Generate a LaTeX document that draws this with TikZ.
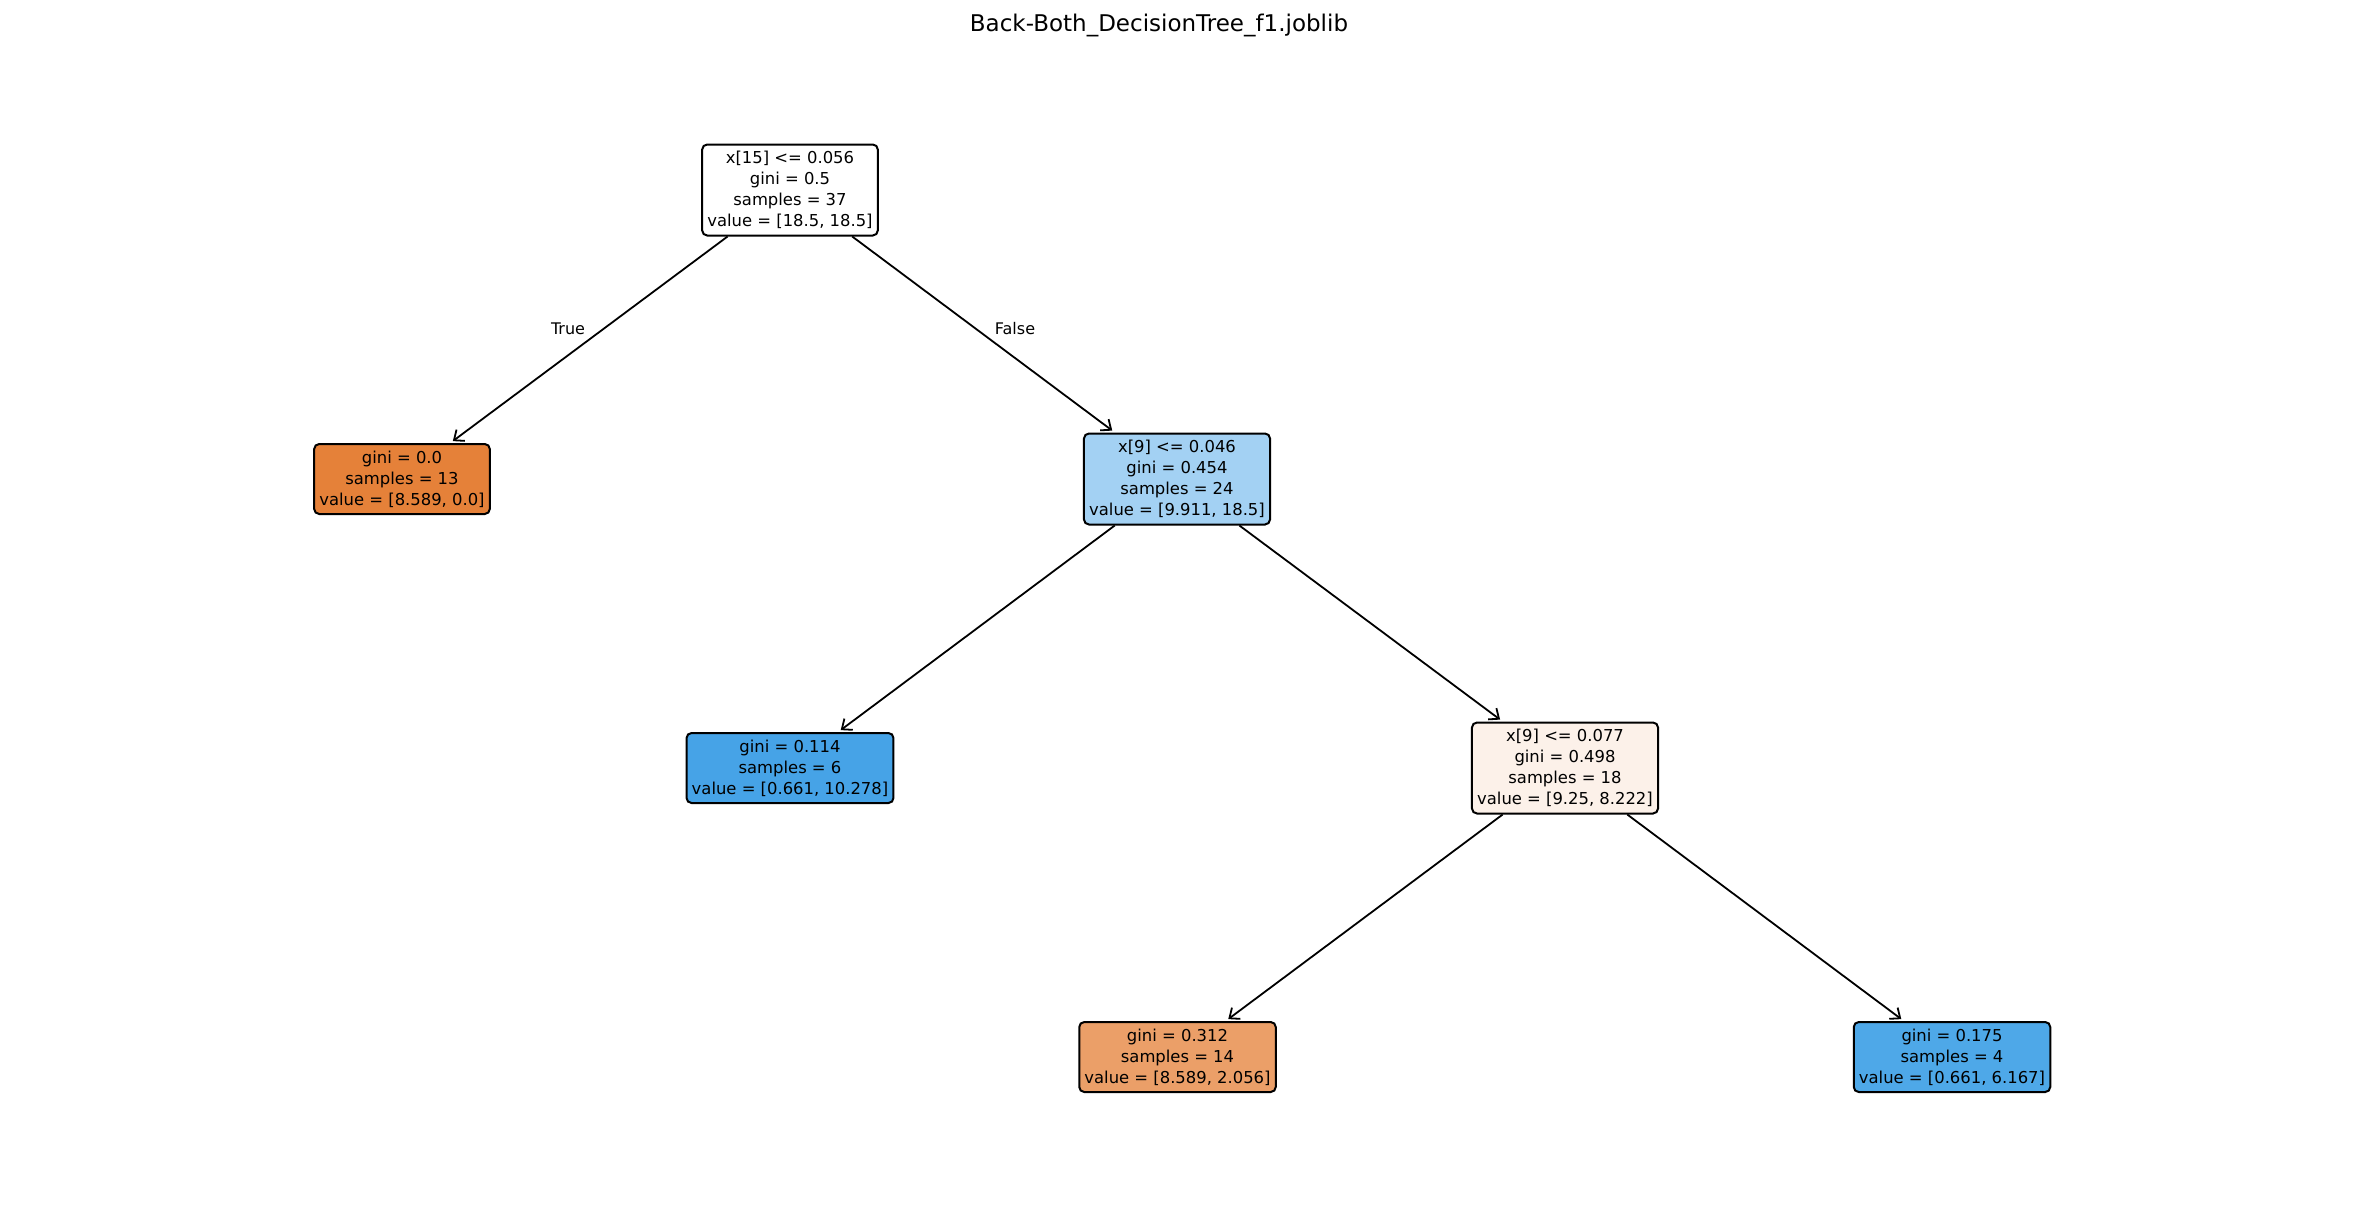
\documentclass[tikz,border=0pt]{standalone}
\usepackage{fontspec}
\setmainfont{DejaVu Sans}
\usetikzlibrary{arrows.meta}
\definecolor{cwhite}{RGB}{255,255,255}
\definecolor{corange}{RGB}{229,129,57}
\definecolor{clblue}{RGB}{163,209,243}
\definecolor{cblueA}{RGB}{70,163,231}
\definecolor{cpeach}{RGB}{252,241,233}
\definecolor{corangeB}{RGB}{235,159,104}
\definecolor{cblueB}{RGB}{78,168,232}
\tikzset{
  treebox/.style={draw=black, line width=1pt, rounded corners=2.5pt, align=center,
    inner xsep=2.6pt, inner ysep=0pt, font=\fontsize{8.2}{10.5}\selectfont, text=black},
  splitbox/.style={treebox, minimum height=45.5pt},
  leafbox/.style={treebox, minimum height=35pt},
  edge/.style={line width=0.9pt, -{Straight Barb[length=4.2pt,width=7pt]}, shorten >=1.6pt},
  edgelabel/.style={font=\fontsize{8}{10}\selectfont, inner sep=0pt},
}
\begin{document}
\begin{tikzpicture}[x=0.5pt, y=-0.5pt]
\useasboundingbox (0,0) rectangle (2355,1216);
\fill[white] (0,0) rectangle (2355,1216);

\node[font=\fontsize{11.5}{14}\selectfont, inner sep=0pt] (title) at (1159,25) {Back-Both\_DecisionTree\_f1.joblib};

\node[splitbox, fill=cwhite] (n0) at (790,190) {x[15] <= 0.056\\gini = 0.5\\samples = 37\\value = [18.5, 18.5]};
\node[leafbox, fill=corange] (n1) at (402,479) {gini = 0.0\\samples = 13\\value = [8.589, 0.0]};
\node[splitbox, fill=clblue] (n2) at (1177,479) {x[9] <= 0.046\\gini = 0.454\\samples = 24\\value = [9.911, 18.5]};
\node[leafbox, fill=cblueA] (n3) at (790,768) {gini = 0.114\\samples = 6\\value = [0.661, 10.278]};
\node[splitbox, fill=cpeach] (n4) at (1565,768) {x[9] <= 0.077\\gini = 0.498\\samples = 18\\value = [9.25, 8.222]};
\node[leafbox, fill=corangeB] (n5) at (1177.5,1057) {gini = 0.312\\samples = 14\\value = [8.589, 2.056]};
\node[leafbox, fill=cblueB] (n6) at (1952,1057) {gini = 0.175\\samples = 4\\value = [0.661, 6.167]};

\draw[edge] (n0) -- (n1);
\draw[edge] (n0) -- (n2);
\draw[edge] (n2) -- (n3);
\draw[edge] (n2) -- (n4);
\draw[edge] (n4) -- (n5);
\draw[edge] (n4) -- (n6);

\node[edgelabel] (ltrue) at (568,329) {True};
\node[edgelabel] (lfalse) at (1015,329) {False};
\end{tikzpicture}
\end{document}
